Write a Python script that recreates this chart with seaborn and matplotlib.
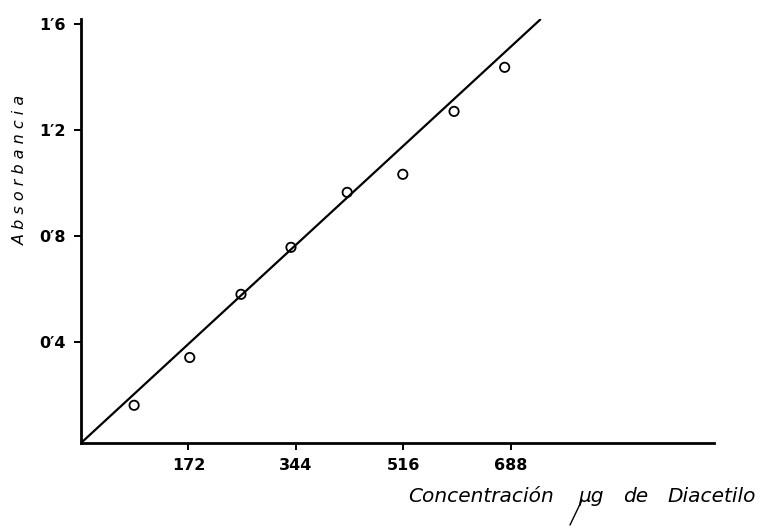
import matplotlib
matplotlib.use("Agg")
import matplotlib.pyplot as plt
from matplotlib.lines import Line2D
import seaborn as sns
import pandas as pd

# Data
concentracion = [85, 174, 256, 336, 426, 515, 597, 678]
absorbancia = [0.162, 0.342, 0.58, 0.757, 0.964, 1.032, 1.269, 1.435]
fit_x = [0, 735]
fit_y = [0.02, 1.615]
x_ticks = [172, 344, 516, 688]
y_ticks = [0.4, 0.8, 1.2, 1.6]
y_tick_labels = ["0′4", "0′8", "1′2", "1′6"]
x_label_words = ["Concentración", "µg", "de", "Diacetilo"]
x_label_pos = [408, 578, 623, 667]

sns.set_theme(style="white")
plt.rcParams["font.family"] = ["DejaVu Sans"]

df = pd.DataFrame({"x": concentracion, "y": absorbancia})
fit = pd.DataFrame({"x": fit_x, "y": fit_y})

fig = plt.figure(figsize=(7.63, 5.26), dpi=100)
ax = fig.add_axes([81 / 763, 1 - 443 / 526, (714 - 81) / 763, (443 - 19) / 526])

sns.lineplot(data=fit, x="x", y="y", ax=ax, color="black", linewidth=1.6)
sns.scatterplot(data=df, x="x", y="y", ax=ax, marker="o", s=45,
                facecolor="none", edgecolor="black", linewidth=1.3, zorder=3)

ax.set_xlim(0, 1013)
ax.set_ylim(0.02, 1.617)
ax.set_xticks(x_ticks)
ax.set_xticklabels([str(v) for v in x_ticks], fontsize=11.5, fontweight="bold", color="black")
ax.set_yticks(y_ticks)
ax.set_yticklabels(y_tick_labels, fontsize=11.5, fontweight="bold", color="black")
ax.tick_params(axis="both", direction="out", length=5, width=1.4, color="black",
               bottom=True, left=True, pad=6)
for s in ["top", "right"]:
    ax.spines[s].set_visible(False)
for s in ["left", "bottom"]:
    ax.spines[s].set_color("black")
    ax.spines[s].set_linewidth(2.0)
ax.set_xlabel("")
ax.set_ylabel("")

fig.text(20 / 763, 1 - 170 / 526, "A b s o r b a n c i a", rotation=90,
         ha="center", va="center", fontsize=11.5, style="italic", color="black")
for word, px in zip(x_label_words, x_label_pos):
    fig.text(px / 763, 1 - 496 / 526, word, ha="left", va="center",
             fontsize=14.5, style="italic", color="black")
fig.add_artist(Line2D([570 / 763, 582 / 763], [1 - 525 / 526, 1 - 500 / 526],
                      color="black", linewidth=1.0, transform=fig.transFigure))

fig.savefig("out.png", dpi=100, facecolor="white")
